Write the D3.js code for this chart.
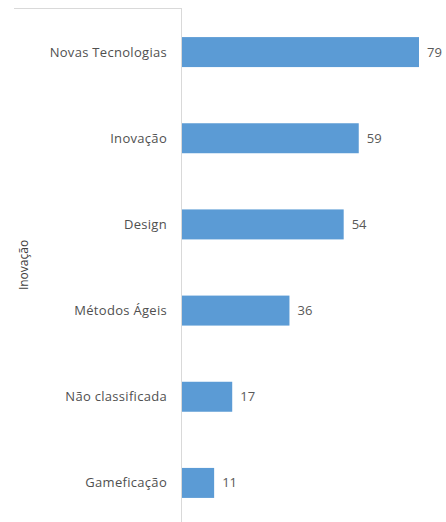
<!DOCTYPE html>
<html>
<head>
<meta charset="utf-8">
<script src="https://cdn.jsdelivr.net/npm/d3@7"></script>
<style>
body{margin:0;background:#fff;}
</style>
</head>
<body>
<script>
var categories = ["Novas Tecnologias","Inovação","Design","Métodos Ágeis","Não classificada","Gameficação"];
var values = [79,59,54,36,17,11];
var axisTitle = "Inovação";

const svg_width = 446, svg_height = 522;
const x0 = 181;

var svg = d3.select("body").append("svg")
			.attr("width",svg_width)
			.attr("height",svg_height);

var x = d3.scaleLinear().domain([0,79]).range([x0, 419]);
var y = d3.scaleBand().domain(categories).range([9, 526]).paddingInner(0.652).paddingOuter(0.326);

// plot frame top + axis
svg.append("line")
	.attr("x1",14).attr("y1",8.5).attr("x2",x0).attr("y2",8.5)
	.attr("stroke","#d9d9d9").attr("stroke-width",1);

svg.selectAll("rect.bar")
	.data(values)
	.enter()
	.append("rect")
	.attr("class","bar")
	.attr("x",x(0))
	.attr("y",function(d,i){return y(categories[i])})
	.attr("width",function(d){return x(d)-x(0)})
	.attr("height",y.bandwidth())
	.attr("fill","#5b9bd5");

svg.append("line")
	.attr("x1",x0+0.5).attr("y1",8).attr("x2",x0+0.5).attr("y2",svg_height)
	.attr("stroke","#d9d9d9").attr("stroke-width",1);

// category labels
svg.selectAll("text.cat")
	.data(categories)
	.enter()
	.append("text")
	.attr("class","cat")
	.attr("x",167)
	.attr("y",function(d){return y(d)+y.bandwidth()/2})
	.attr("dy","0.35em")
	.attr("text-anchor","end")
	.attr("font-family","'Open Sans', sans-serif")
	.attr("font-size","13px")
	.attr("letter-spacing","0.3px")
	.attr("fill","#505050")
	.text(function(d){return d});

// value labels
svg.selectAll("text.val")
	.data(values)
	.enter()
	.append("text")
	.attr("class","val")
	.attr("x",function(d){return x(d)+8})
	.attr("y",function(d,i){return y(categories[i])+y.bandwidth()/2})
	.attr("dy","0.35em")
	.attr("font-family","'Open Sans', sans-serif")
	.attr("font-size","13px")
	.attr("fill","#595959")
	.text(function(d){return d});

svg.append("text")
	.attr("transform","translate(28,265) rotate(-90)")
	.attr("text-anchor","middle")
	.attr("font-family","'Open Sans', sans-serif")
	.attr("font-size","12px")
	.attr("fill","#404040")
	.text(axisTitle);
</script>
</body>
</html>
